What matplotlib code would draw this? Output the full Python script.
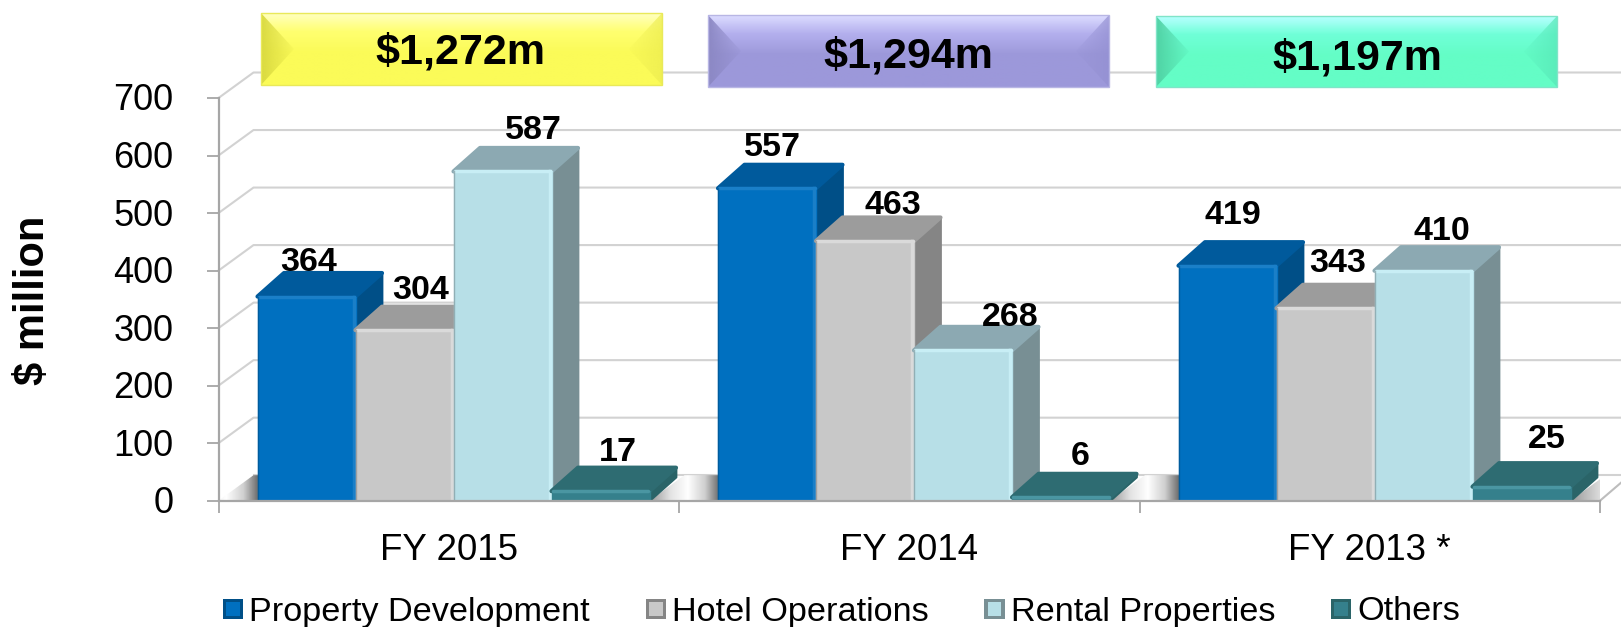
import numpy as np
import matplotlib
matplotlib.use("Agg")
import matplotlib.pyplot as plt
from matplotlib.patches import Polygon, Rectangle, Patch
from matplotlib.colors import LinearSegmentedColormap, to_rgb
from matplotlib.legend_handler import HandlerPatch
from matplotlib.transforms import ScaledTranslation

plt.rcParams['font.family'] = ['Liberation Sans', 'DejaVu Sans']

# data
years = ["FY 2015", "FY 2014", "FY 2013 *"]
series_names = ["Property Development", "Hotel Operations", "Rental Properties", "Others"]
property_dev = [364, 557, 419]
hotel_ops = [304, 463, 343]
rental_props = [587, 268, 410]
others = [17, 6, 25]
totals = ["$1,272m", "$1,294m", "$1,197m"]
y_ticks = [0, 100, 200, 300, 400, 500, 600, 700]

# colours for each series: front, top, side, highlight
front_cols = ["#0070C0", "#C8C8C8", "#B7DFE7", "#35808C"]
top_cols = ["#005A9C", "#9C9C9C", "#8CA9B2", "#2E6C72"]
side_cols = ["#004F87", "#858585", "#788F94", "#2A6468"]
light_cols = ["#1A7FC8", "#DADADA", "#C8EEF5", "#4A96A2"]

# label offsets in pixels from the front centre of the bar top
label_dx = [[2, 16, 31, 17], [5, 28, 47, 19], [5, 12, 18, 25]]
label_dy = [[29, 35, 33, 38], [33, 29, 29, 41], [44, 40, 33, 47]]

W, H = 1621, 627
fig = plt.figure(figsize=(W / 100, H / 100), dpi=100)

# axes placed so 0..3 and 0..700 land on the reference axis lines
left, right, bottom, top = 218.5, 1600.0, 500.7, 98.0
ax = fig.add_axes([left / W, 1 - bottom / H, (right - left) / W, (bottom - top) / H])
ax.set_xlim(0, 3)
ax.set_ylim(0, 700)
ax.patch.set_alpha(0)

px_x = (right - left) / 3
px_y = (bottom - top) / 700
depth_x = 26.5 / px_x
depth_y = 23.5 / px_y
wall_x = 35 / px_x
wall_y = 25.5 / px_y
bar_w = 98 / px_x
bar_gap = 39 / px_x
front_scale = 0.975

# back wall gridlines
for t in y_ticks[1:]:
    ax.plot([0, wall_x, 3.05], [t, t + wall_y, t + wall_y], color="#D2D2D2", lw=1.5,
            clip_on=False, zorder=1, solid_joinstyle="round")

# floor
floor_cmap = LinearSegmentedColormap.from_list(
    "floor", [(0, "#999999"), (0.3, "#E4E4E4"), (0.55, "#FFFFFF"), (0.8, "#CFCFCF"), (1, "#6E6E6E")])
ends = [(i + bar_gap + 4 * bar_w, i + 1 + bar_gap) for i in range(2)]
ax.plot([wall_x, 3.05], [wall_y, wall_y], color="#D2D2D2", lw=1.5, clip_on=False, zorder=1)
floor_parts = [(0, bar_gap, 0.45, 1)] + [(a, b, 0, 1) for a, b in ends] + [(2 + bar_gap + 4 * bar_w, 3.05, 0, 0.5)]
for a, b, c0, c1 in floor_parts:
    grad = np.linspace(c0, c1, 128).reshape(1, -1)
    im = ax.imshow(grad, extent=(a, b, 0, wall_y), cmap=floor_cmap, vmin=0, vmax=1,
                   aspect="auto", zorder=1.2, clip_on=True)
    clip = Polygon([(a, 0), (a + wall_x, wall_y), (b + wall_x, wall_y), (b, 0)],
                   transform=ax.transData)
    im.set_clip_path(clip)
ax.plot([3, 3 + 21 / px_x], [0, 18 / px_y], color="#BDBDBD", lw=1.5, clip_on=False, zorder=1.3)
ax.set_xlim(0, 3)
ax.set_ylim(0, 700)


def draw_bar(x, v, i):
    h = v * front_scale
    z = 3
    # side face, top face, front face, back to front
    ax.add_patch(Polygon([(x + bar_w, 0), (x + bar_w + depth_x, depth_y),
                          (x + bar_w + depth_x, h + depth_y), (x + bar_w, h)],
                         fc=side_cols[i], ec=side_cols[i], lw=2, joinstyle="round", zorder=z))
    ax.add_patch(Polygon([(x, h), (x + depth_x, h + depth_y),
                          (x + bar_w + depth_x, h + depth_y), (x + bar_w, h)],
                         fc=top_cols[i], ec=top_cols[i], lw=3, joinstyle="round", zorder=z))
    ax.add_patch(Rectangle((x, 0), bar_w, h, fc=front_cols[i], ec=front_cols[i], lw=1,
                           joinstyle="round", zorder=z))
    # bevel
    ax.plot([x + 0.003, x + bar_w - 0.003], [h, h], color=light_cols[i], lw=2.5, zorder=z,
            solid_capstyle="round")
    if v > 50:
        ax.plot([x + bar_w - 0.004, x + bar_w - 0.004], [0, h], color=light_cols[i], lw=2.5, zorder=z)
        ax.plot([x, x], [0, h], color=side_cols[i], lw=1, alpha=0.6, zorder=z)


all_series = [property_dev, hotel_ops, rental_props, others]
for g in range(3):
    for i, vals in enumerate(all_series):
        x = g + bar_gap + i * bar_w
        draw_bar(x, vals[g], i)
        ax.annotate(str(vals[g]), xy=(x + bar_w / 2, vals[g]),
                    xytext=(label_dx[g][i], label_dy[g][i]), textcoords="offset pixels",
                    ha="center", va="center", fontsize=24.5, fontweight="bold",
                    color="black", zorder=6, annotation_clip=False)

# axes
for s in ["top", "right"]:
    ax.spines[s].set_visible(False)
for s in ["left", "bottom"]:
    ax.spines[s].set_color("#A6A6A6")
    ax.spines[s].set_linewidth(1.6)
    ax.spines[s].set_zorder(4)
ax.set_yticks(y_ticks)
ax.set_xticks([0, 1, 2, 3])
ax.set_xticklabels([])
ax.set_xticks([0.5, 1.5, 2.5], minor=True)
ax.set_xticklabels(years, minor=True)
ax.tick_params(axis="y", length=8.6, width=1.3, color="#A6A6A6", labelsize=26, pad=24)
ax.tick_params(axis="x", which="major", length=8.6, width=1.3, color="#A6A6A6")
ax.tick_params(axis="x", which="minor", length=0, labelsize=26.5, pad=23)
shift_up = ScaledTranslation(0, 1 / 100, fig.dpi_scale_trans)
for lbl in ax.get_yticklabels():
    lbl.set_transform(lbl.get_transform() + shift_up)
fig.text(33 / W, 1 - 300 / H, "$ million", rotation=90, ha="center", va="center",
         fontsize=30, fontweight="bold")


# legend with little bevelled squares
class BevelHandler(HandlerPatch):
    def create_artists(self, legend, orig, xd, yd, width, height, fontsize, trans):
        fc = orig.get_facecolor()
        ec = orig.get_edgecolor()
        s = height * 1.1
        x0, y0 = -xd, -yd - 0.08 * height
        outer = Rectangle((x0, y0), s, s, fc=ec, ec="none", transform=trans)
        inner = Rectangle((x0 + s * 0.16, y0 + s * 0.16), s * 0.68, s * 0.68, fc=fc, ec="none", transform=trans)
        return [outer, inner]


handles = [Patch(facecolor=front_cols[i], edgecolor=side_cols[i], label=series_names[i]) for i in range(4)]
fig.legend(handles=handles, loc="center left", bbox_to_anchor=(223 / W, 1 - 612 / H), ncol=4,
           frameon=False, fontsize=24.7, borderpad=0, borderaxespad=0, handlelength=0.55,
           handleheight=0.45, handletextpad=0.22, columnspacing=1.62,
           handler_map={Patch: BevelHandler()})

# total banners on top of everything, drawn in pixel coordinates
ov = fig.add_axes([0, 0, 1, 1], zorder=10)
ov.set_xlim(0, W)
ov.set_ylim(H, 0)
ov.axis("off")
ov.patch.set_alpha(0)

banner_box = [(261, 662, 13, 85, 460, 64), (708, 1109, 15, 87, 908, 67), (1156, 1557, 16, 87, 1357, 69)]
banner_grad = [["#FFFFC0", "#FFFF70", "#FBFB58"], ["#DCDCFF", "#B4B0EE", "#9C98DA"], ["#B8FFFF", "#70FFD8", "#64FDC6"]]
banner_left = ["#DADA40", "#8C88C4", "#50D2A4"]
banner_right = ["#EDED50", "#9490D2", "#58E8B8"]
banner_edge = ["#E9E95A", "#B8B6E4", "#80E4C8"]
for b in range(3):
    x0, x1, y0, y1, tx, ty = banner_box[b]
    cm = LinearSegmentedColormap.from_list("b", [(0, banner_grad[b][0]), (0.25, banner_grad[b][1]),
                                                 (0.55, banner_grad[b][2]), (1, banner_grad[b][2])])
    ov.imshow(np.linspace(0, 1, 64).reshape(-1, 1), extent=(x0, x1, y1, y0), cmap=cm,
              aspect="auto", zorder=1)
    ym = (y0 + y1) / 2
    # side bevels fade out towards the middle of the banner
    for col, xa, xb, a0 in [(banner_left[b], x0, x0 + 33, 1.0), (banner_right[b], x1, x1 - 33, 0.75)]:
        img = np.zeros((1, 64, 4))
        img[..., :3] = to_rgb(col)
        img[..., 3] = np.linspace(a0, 0.1, 64)
        im = ov.imshow(img, extent=(xa, xb, y1, y0), aspect="auto", zorder=2)
        im.set_clip_path(Polygon([(xa, y0), (xb, ym), (xa, y1)], transform=ov.transData))
    ov.add_patch(Rectangle((x0, y0), x1 - x0, y1 - y0, fc="none", ec=banner_edge[b], lw=1, zorder=3))
    ov.text(tx, ty, totals[b], ha="center", va="baseline", fontsize=31, fontweight="bold",
            color="black", zorder=4)
ov.set_xlim(0, W)
ov.set_ylim(H, 0)

fig.savefig("out.png", dpi=100)
